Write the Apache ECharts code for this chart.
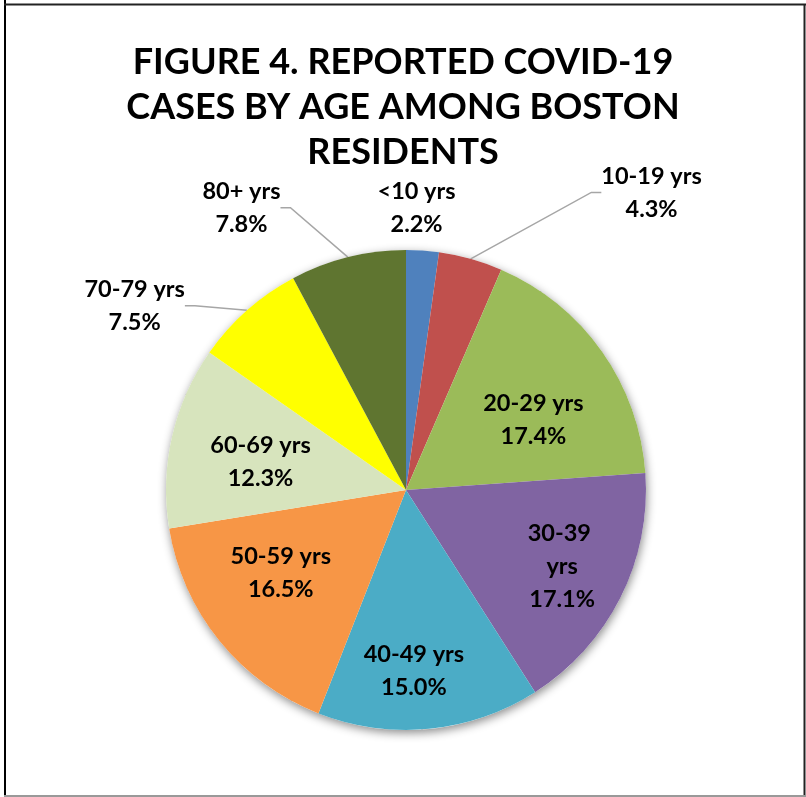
<!DOCTYPE html>
<html>
<head>
<meta charset="utf-8">
<script src="https://cdn.jsdelivr.net/npm/echarts@6/dist/echarts.min.js"></script>
<style>
html,body{margin:0;padding:0;background:#fff;}
#chart{width:806px;height:797px;}
</style>
</head>
<body>
<div id="chart"></div>
<script>
const titleLines = ['FIGURE 4. REPORTED COVID-19', 'CASES BY AGE AMONG BOSTON', 'RESIDENTS'];
const categories = ['<10 yrs', '10-19 yrs', '20-29 yrs', '30-39 yrs', '40-49 yrs', '50-59 yrs', '60-69 yrs', '70-79 yrs', '80+ yrs'];
const percents = [2.2, 4.3, 17.4, 17.1, 15.0, 16.5, 12.3, 7.5, 7.8];
const colors = ['#4F81BD', '#C0504D', '#9BBB59', '#8064A2', '#4BACC6', '#F79646', '#D7E4BD', '#FFFF00', '#5F7530'];

// label placement styles (per slice)
const outsideLabel = {
  0: { length: 43, length2: 0, distance: -48, showLine: false },
  1: { length: 69, length2: 10, distance: 102, showLine: true },
  7: { length: 6, length2: 10, distance: 48, showLine: true },
  8: { length: 51, length2: 10, distance: 45, showLine: true }
};
const insideShift = { 2: [-6, 25], 3: [10, 3], 4: [-8, 18], 5: [2, -20], 6: [14, 8] };
const wrapLabel = { 3: 85 };

const W = 806, H = 797;
const CX = 406, CY = 490, R = 240;
const insideFactor = 1.33;

const chart = echarts.init(document.getElementById('chart'), null, { renderer: 'canvas', width: W, height: H });

const labelFont = {
  fontFamily: 'Lato',
  fontWeight: 'bold',
  fontSize: 23.5,
  lineHeight: 33,
  color: '#000'
};

const pieData = categories.map((name, i) => {
  const item = { name: name, value: percents[i], itemStyle: { color: colors[i] } };
  const o = outsideLabel[i];
  if (o) {
    item.label = { position: 'outside', distanceToLabelLine: o.distance };
    item.labelLine = { show: o.showLine, length: o.length, length2: o.length2 };
  } else {
    item.label = { position: 'inside' };
    if (wrapLabel[i]) {
      item.label.width = wrapLabel[i];
      item.label.overflow = 'break';
    }
  }
  return item;
});

const option = {
  backgroundColor: '#fff',
  animation: false,
  title: {
    text: titleLines.join('\n'),
    left: 'center',
    top: 35,
    textStyle: {
      fontFamily: 'Lato',
      fontWeight: 'bold',
      fontSize: 36,
      lineHeight: 45,
      color: '#000'
    }
  },
  graphic: [
    { type: 'line', shape: { x1: 5, y1: 0, x2: 5, y2: 797 }, style: { stroke: '#000', lineWidth: 2 } },
    { type: 'line', shape: { x1: 4, y1: 4.5, x2: 806, y2: 4.5 }, style: { stroke: '#222', lineWidth: 2 } },
    { type: 'line', shape: { x1: 804.5, y1: 4, x2: 804.5, y2: 797 }, style: { stroke: '#222', lineWidth: 2 } },
    { type: 'line', shape: { x1: 4, y1: 796, x2: 806, y2: 796 }, style: { stroke: '#999', lineWidth: 2 } }
  ],
  series: [
    {
      type: 'pie',
      silent: true,
      z: 1,
      center: [CX, CY],
      radius: [0, R],
      label: { show: false },
      labelLine: { show: false },
      itemStyle: {
        color: '#fff',
        shadowBlur: 10,
        shadowColor: 'rgba(0,0,0,0.45)',
        shadowOffsetX: 1,
        shadowOffsetY: 3
      },
      data: [{ name: 'shadow', value: 1 }]
    },
    {
      type: 'pie',
      z: 2,
      center: [CX, CY],
      radius: [0, R],
      startAngle: 90,
      clockwise: true,
      avoidLabelOverlap: false,
      label: Object.assign({
        show: true,
        formatter: p => p.name + '\n' + p.value.toFixed(1) + '%',
        align: 'center'
      }, labelFont),
      labelLine: {
        lineStyle: { color: '#A6A6A6', width: 1.5 },
        smooth: false
      },
      emphasis: { disabled: true },
      labelLayout: function (params) {
        const r = params.labelRect;
        const mx = r.x + r.width / 2;
        const my = r.y + r.height / 2;
        if (outsideLabel[params.dataIndex]) {
          return { x: mx, y: my, align: 'center', verticalAlign: 'middle' };
        }
        const s = insideShift[params.dataIndex] || [0, 0];
        return {
          x: CX + (mx - CX) * insideFactor + s[0],
          y: CY + (my - CY) * insideFactor + s[1],
          align: 'center',
          verticalAlign: 'middle'
        };
      },
      data: pieData
    }
  ]
};

chart.setOption(option);
</script>
</body>
</html>
